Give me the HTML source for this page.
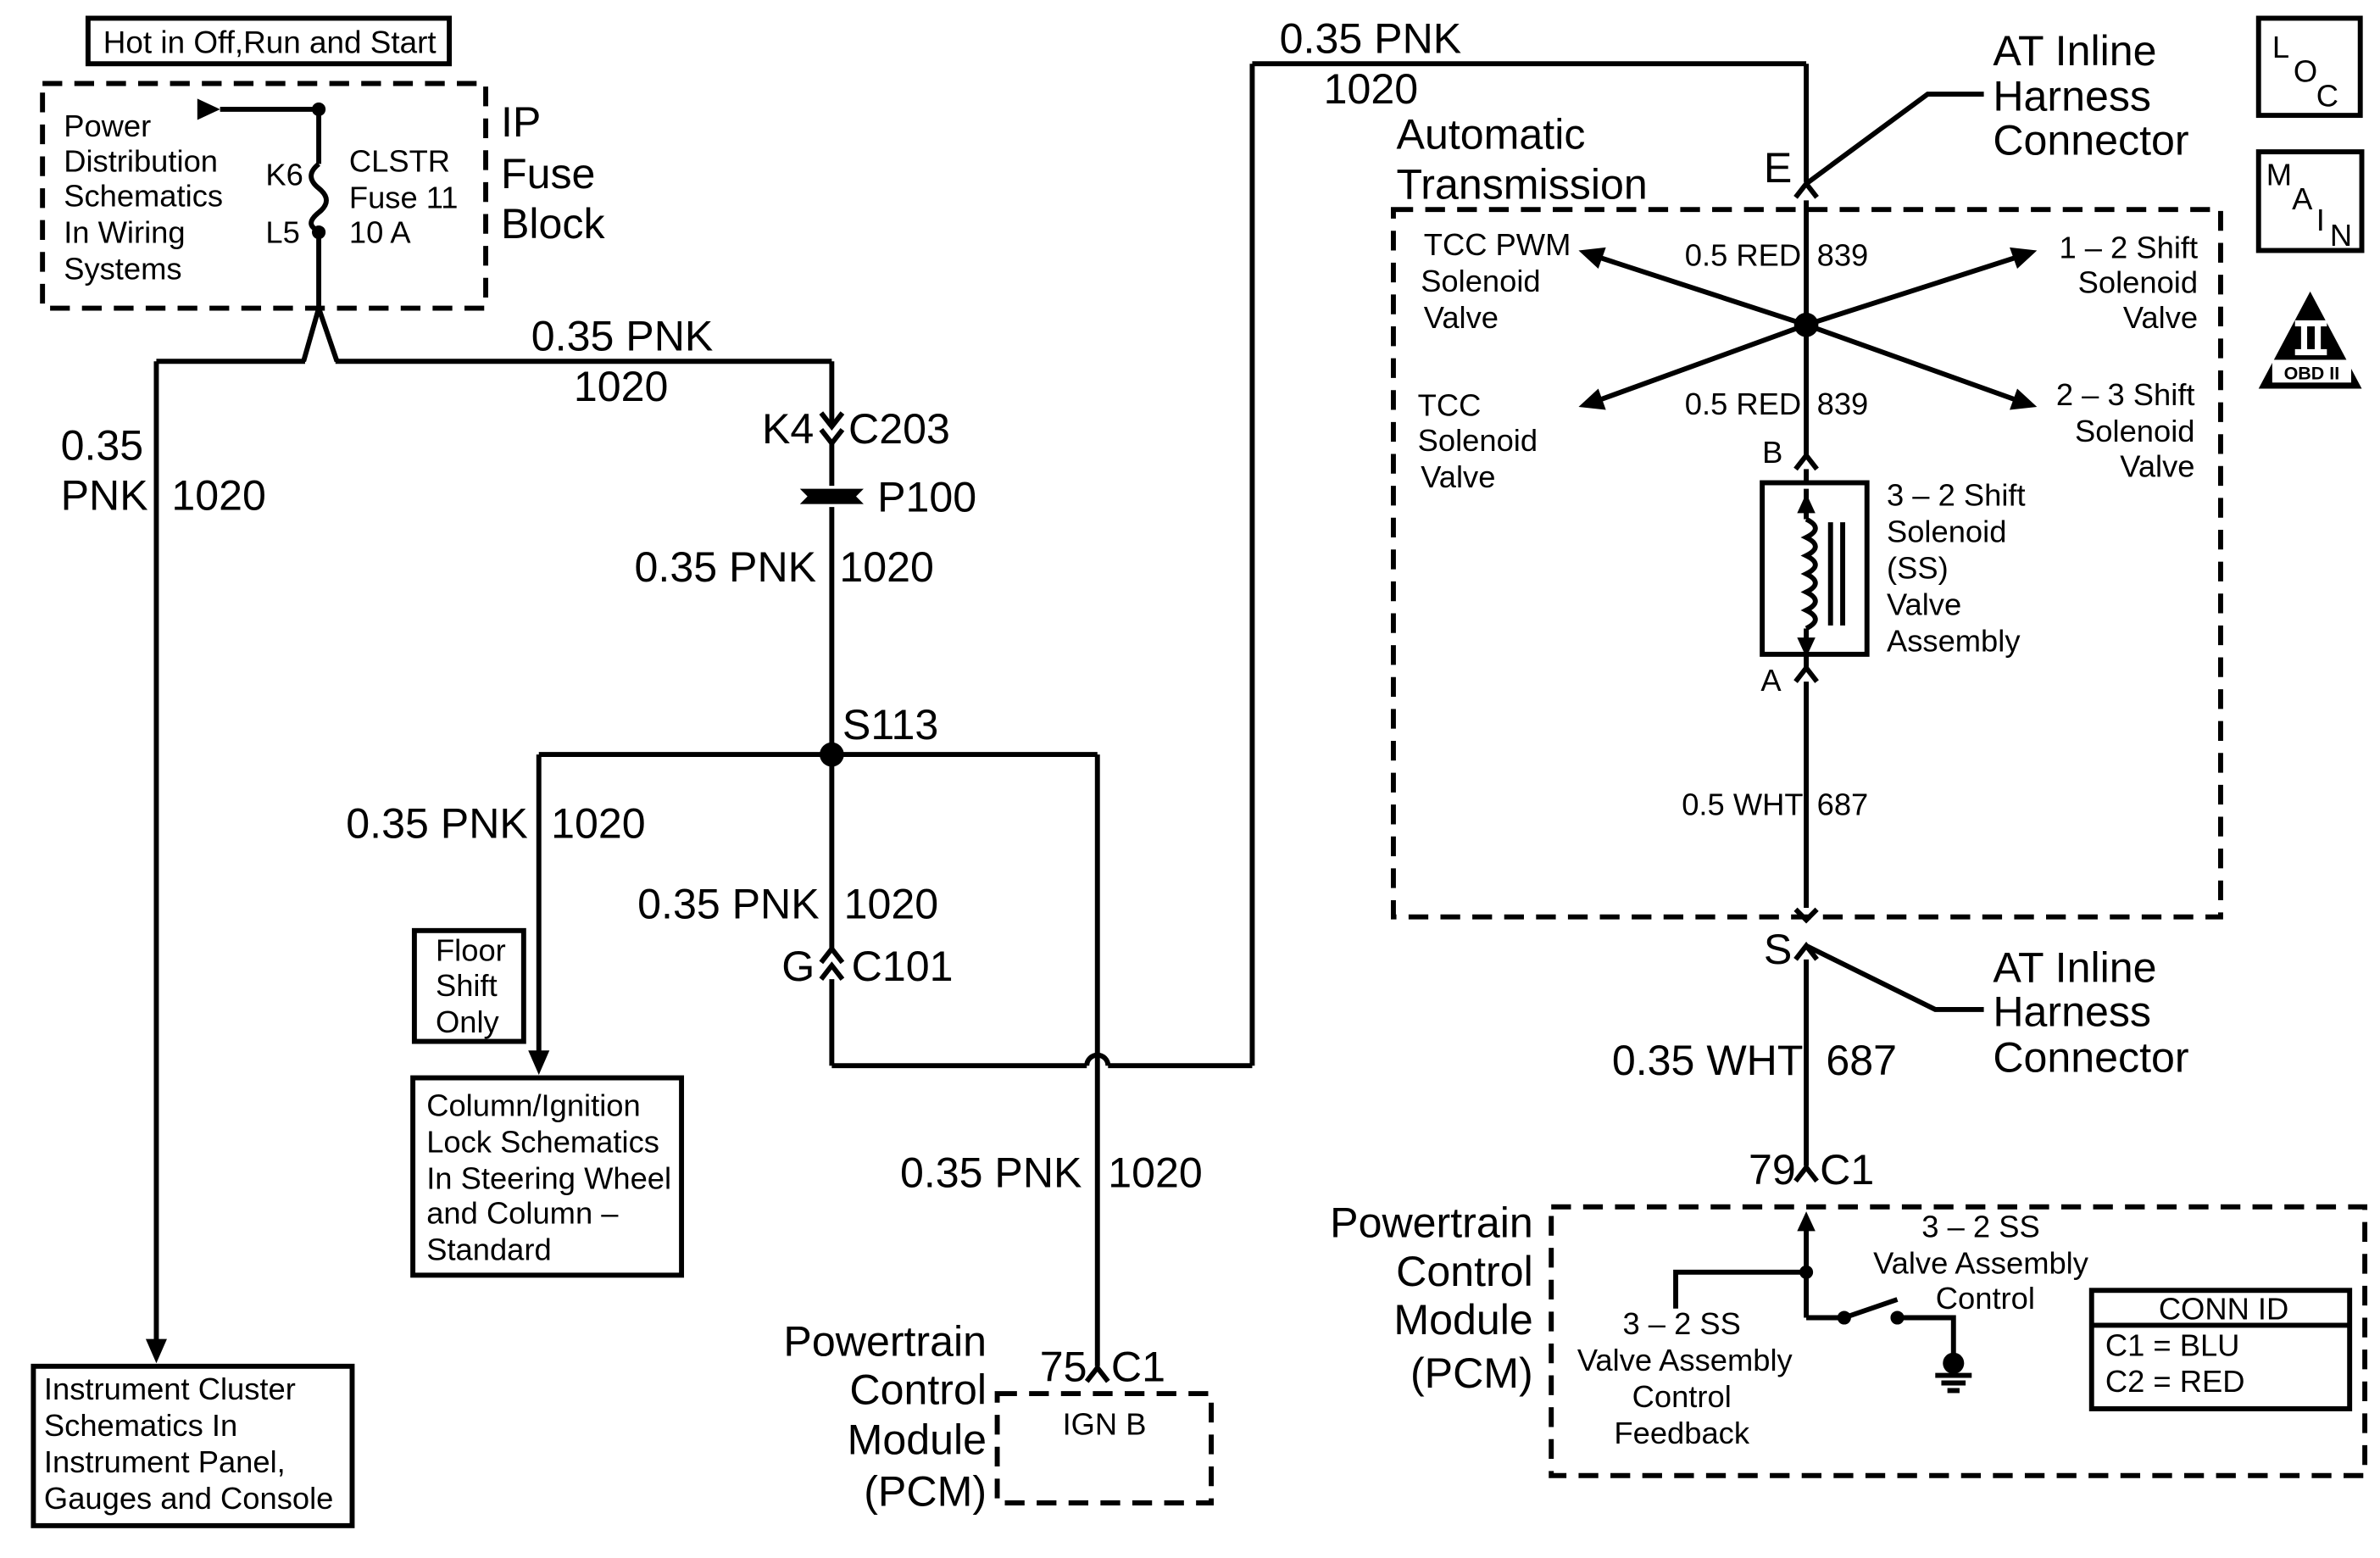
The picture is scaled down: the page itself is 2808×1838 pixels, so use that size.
<!DOCTYPE html>
<html><head><meta charset="utf-8"><style>
html,body{margin:0;padding:0;background:#fff;}
svg{display:block;}
text{font-family:"Liberation Sans",Arial,sans-serif;fill:#000;}
.s{font-size:20.3px;}
.m{font-size:20.6px;}
.b{font-size:28px;}
</style></head><body>
<svg width="2808" height="1838" viewBox="0 0 1568 1026.3" preserveAspectRatio="none" xmlns="http://www.w3.org/2000/svg">
<g fill="none" stroke="#000" stroke-width="3.3">
<rect x="58" y="12" width="238" height="30"/>
<rect x="28" y="55" width="292" height="148" stroke-dasharray="13,8"/>
<line x1="145" y1="72" x2="210" y2="72"/>
<polyline points="210,72 210,108"/>
<path d="M210,108 q-10,8 0,16 q10,8 0,16 q-10,8 0,12"/>
<line x1="210" y1="153" x2="210" y2="203"/>
<polyline points="200,238 210,203 222,238"/>
<line x1="103" y1="238" x2="201" y2="238"/>
<line x1="221" y1="238" x2="548" y2="238"/>
<line x1="103" y1="238" x2="103" y2="885"/>
<rect x="22" y="900" width="210" height="105"/>
<line x1="548" y1="238" x2="548" y2="280"/>
<polyline points="541,272 548,281 555,272"/>
<polyline points="541,283 548,292 555,283"/>
<line x1="548" y1="292" x2="548" y2="320"/>
<line x1="548" y1="334" x2="548" y2="625"/>
<line x1="355" y1="497" x2="723" y2="497"/>
<line x1="355" y1="497" x2="355" y2="697"/>
<rect x="273" y="613" width="72" height="73"/>
<rect x="272" y="710" width="177" height="130"/>
<polyline points="541,645 548,636 555,645"/>
<polyline points="541,634 548,625 555,634"/>
<line x1="548" y1="645" x2="548" y2="702"/>
<line x1="548" y1="702" x2="716" y2="702"/>
<path d="M716,702 a7,7 0 0 1 14,0"/>
<line x1="730" y1="702" x2="825" y2="702"/>
<line x1="825" y1="702" x2="825" y2="42"/>
<line x1="825" y1="42" x2="1190" y2="42"/>
<line x1="723" y1="497" x2="723" y2="900"/>
<polyline points="716,910 723,901 730,910"/>
<rect x="657" y="918" width="141" height="72" stroke-dasharray="13,8"/>
<line x1="1190" y1="42" x2="1190" y2="120"/>
<polyline points="1183,130 1190,121 1197,130"/>
<polyline points="1190,121 1270,62 1307,62"/>
<rect x="918" y="138" width="545" height="466" stroke-dasharray="13,8"/>
<line x1="1190" y1="132" x2="1190" y2="300"/>
<polyline points="1183,309 1190,300 1197,309"/>
<line x1="1190" y1="309" x2="1190" y2="318"/>
<line x1="1190" y1="214" x2="1055" y2="170"/>
<line x1="1190" y1="214" x2="1327" y2="170"/>
<line x1="1190" y1="214" x2="1055" y2="263"/>
<line x1="1190" y1="214" x2="1327" y2="263"/>
<rect x="1161" y="318" width="69" height="113"/>
<line x1="1190" y1="322" x2="1190" y2="342"/>
<path d="M1190,342 q12,6 0,12 q12,6 0,12 q12,6 0,12 q12,6 0,12 q12,6 0,12 q12,6 0,12"/>
<line x1="1190" y1="414" x2="1190" y2="428"/>
<line x1="1206" y1="344" x2="1206" y2="412"/>
<line x1="1214" y1="344" x2="1214" y2="412"/>
<line x1="1190" y1="431" x2="1190" y2="440"/>
<polyline points="1183,449 1190,440 1197,449"/>
<line x1="1190" y1="449" x2="1190" y2="598"/>
<polyline points="1183,599 1190,606 1197,599"/>
<polyline points="1183,632 1190,623 1197,632"/>
<polyline points="1190,623 1275,665 1307,665"/>
<line x1="1190" y1="632" x2="1190" y2="768"/>
<polyline points="1183,778 1190,769 1197,778"/>
<rect x="1022" y="795" width="536" height="177" stroke-dasharray="13,8"/>
<line x1="1190" y1="810" x2="1190" y2="868"/>
<polyline points="1104,862 1104,838 1190,838"/>
<line x1="1190" y1="868" x2="1215" y2="868"/>
<line x1="1215" y1="868" x2="1250" y2="856"/>
<polyline points="1250,868 1287,868 1287,898"/>
<line x1="1275" y1="906" x2="1299" y2="906"/>
<line x1="1279" y1="911" x2="1295" y2="911"/>
<line x1="1283" y1="916" x2="1291" y2="916"/>
<rect x="1378" y="850" width="170" height="78"/>
<line x1="1378" y1="873" x2="1548" y2="873"/>
<rect x="1488" y="12" width="67" height="64"/>
<rect x="1488" y="100" width="68" height="65"/>
</g>
<g fill="#000">
<polygon points="130,65 145,72 130,79"/>
<circle cx="210" cy="72" r="4.5"/>
<circle cx="210" cy="153" r="4.5"/>
<polygon points="96,882 110,882 103,898"/>
<polygon points="348,692 362,692 355,708"/>
<path d="M527,322 h42 l-5,5 l5,5 h-42 l5,-5z"/>
<circle cx="548" cy="497" r="8"/>
<circle cx="1190" cy="214" r="8"/>
<polygon points="1040,165 1058,163 1053,177"/>
<polygon points="1342,165 1324,163 1329,177"/>
<polygon points="1040,268 1053,256 1058,270"/>
<polygon points="1342,268 1329,256 1324,270"/>
<polygon points="1184,338 1196,338 1190,325"/>
<polygon points="1184,420 1196,420 1190,433"/>
<polygon points="1184,811 1196,811 1190,798"/>
<circle cx="1190" cy="838" r="4.5"/>
<circle cx="1215" cy="868" r="4.5"/>
<circle cx="1250" cy="868" r="4.5"/>
<circle cx="1287" cy="898" r="7"/>
<polygon points="1522,192 1556,256 1488,256"/>
</g>
<rect x="1497" y="237" width="52" height="15" fill="#fff"/>
<rect x="1512" y="211" width="21" height="4" fill="#fff"/>
<rect x="1512" y="230" width="21" height="4" fill="#fff"/>
<rect x="1516" y="214" width="4" height="17" fill="#fff"/>
<rect x="1525" y="214" width="4" height="17" fill="#fff"/>
<text x="1523" y="250" style="font-size:12px;font-weight:bold" text-anchor="middle">OBD II</text>

<text x="68" y="35" class="m">Hot in Off,Run and Start</text>
<text class="s"><tspan x="42" y="90">Power</tspan><tspan x="42" y="113">Distribution</tspan><tspan x="42" y="136">Schematics</tspan><tspan x="42" y="160">In Wiring</tspan><tspan x="42" y="184">Systems</tspan></text>
<text x="175" y="122" class="s">K6</text>
<text x="175" y="160" class="s">L5</text>
<text class="s"><tspan x="230" y="113">CLSTR</tspan><tspan x="230" y="137">Fuse 11</tspan><tspan x="230" y="160">10 A</tspan></text>
<text class="b"><tspan x="330" y="90">IP</tspan><tspan x="330" y="124">Fuse</tspan><tspan x="330" y="157">Block</tspan></text>
<text x="40" y="303" class="b">0.35</text>
<text x="40" y="336" class="b">PNK</text>
<text x="113" y="336" class="b">1020</text>
<text x="350" y="231" class="b">0.35 PNK</text>
<text x="378" y="264" class="b">1020</text>
<text x="502" y="292" class="b">K4</text>
<text x="559" y="292" class="b">C203</text>
<text x="578" y="337" class="b">P100</text>
<text x="418" y="383" class="b">0.35 PNK</text>
<text x="553" y="383" class="b">1020</text>
<text x="555" y="487" class="b">S113</text>
<text x="228" y="552" class="b">0.35 PNK</text>
<text x="363" y="552" class="b">1020</text>
<text x="420" y="605" class="b">0.35 PNK</text>
<text x="556" y="605" class="b">1020</text>
<text x="515" y="646" class="b">G</text>
<text x="561" y="646" class="b">C101</text>
<text class="s"><tspan x="287" y="633">Floor</tspan><tspan x="287" y="656">Shift</tspan><tspan x="287" y="680">Only</tspan></text>
<text class="s"><tspan x="281" y="735">Column/Ignition</tspan><tspan x="281" y="759">Lock Schematics</tspan><tspan x="281" y="783">In Steering Wheel</tspan><tspan x="281" y="806">and Column –</tspan><tspan x="281" y="830">Standard</tspan></text>
<text class="s"><tspan x="29" y="922">Instrument Cluster</tspan><tspan x="29" y="946">Schematics In</tspan><tspan x="29" y="970">Instrument Panel,</tspan><tspan x="29" y="994">Gauges and Console</tspan></text>
<text x="593" y="782" class="b">0.35 PNK</text>
<text x="730" y="782" class="b">1020</text>
<text x="685" y="910" class="b">75</text>
<text x="732" y="910" class="b">C1</text>
<text x="700" y="945" class="s">IGN B</text>
<text class="b" text-anchor="end"><tspan x="650" y="893">Powertrain</tspan><tspan x="650" y="925">Control</tspan><tspan x="650" y="958">Module</tspan><tspan x="650" y="992">(PCM)</tspan></text>
<text x="843" y="35" class="b">0.35 PNK</text>
<text x="872" y="68" class="b">1020</text>
<text class="b"><tspan x="920" y="98">Automatic</tspan><tspan x="920" y="131">Transmission</tspan></text>
<text class="b"><tspan x="1313" y="43">AT Inline</tspan><tspan x="1313" y="73">Harness</tspan><tspan x="1313" y="102">Connector</tspan></text>
<text x="1162" y="120" class="b">E</text>
<text x="1110" y="175" class="s">0.5 RED</text><text x="1197" y="175" class="s">839</text>
<text x="1110" y="273" class="s">0.5 RED</text><text x="1197" y="273" class="s">839</text>
<text class="s"><tspan x="938" y="168">TCC PWM</tspan><tspan x="936" y="192">Solenoid</tspan><tspan x="938" y="216">Valve</tspan></text>
<text class="s"><tspan x="934" y="274">TCC</tspan><tspan x="934" y="297">Solenoid</tspan><tspan x="936" y="321">Valve</tspan></text>
<text class="s" text-anchor="end"><tspan x="1448" y="170">1 – 2 Shift</tspan><tspan x="1448" y="193">Solenoid</tspan><tspan x="1448" y="216">Valve</tspan></text>
<text class="s" text-anchor="end"><tspan x="1446" y="267">2 – 3 Shift</tspan><tspan x="1446" y="291">Solenoid</tspan><tspan x="1446" y="314">Valve</tspan></text>
<text x="1161" y="305" class="s">B</text>
<text x="1160" y="455" class="s">A</text>
<text class="s"><tspan x="1243" y="333">3 – 2 Shift</tspan><tspan x="1243" y="357">Solenoid</tspan><tspan x="1243" y="381">(SS)</tspan><tspan x="1243" y="405">Valve</tspan><tspan x="1243" y="429">Assembly</tspan></text>
<text x="1108" y="537" class="s">0.5 WHT</text><text x="1197" y="537" class="s">687</text>
<text x="1162" y="635" class="b">S</text>
<text class="b"><tspan x="1313" y="647">AT Inline</tspan><tspan x="1313" y="676">Harness</tspan><tspan x="1313" y="706">Connector</tspan></text>
<text x="1062" y="708" class="b">0.35 WHT</text>
<text x="1203" y="708" class="b">687</text>
<text x="1152" y="780" class="b">79</text>
<text x="1199" y="780" class="b">C1</text>
<text class="b" text-anchor="end"><tspan x="1010" y="815">Powertrain</tspan><tspan x="1010" y="847">Control</tspan><tspan x="1010" y="879">Module</tspan><tspan x="1010" y="914">(PCM)</tspan></text>
<text class="s" text-anchor="middle"><tspan x="1305" y="815">3 – 2 SS</tspan><tspan x="1305" y="839">Valve Assembly</tspan><tspan x="1308" y="862">Control</tspan></text>
<text class="s" text-anchor="middle"><tspan x="1108" y="879">3 – 2 SS</tspan><tspan x="1110" y="903">Valve Assembly</tspan><tspan x="1108" y="927">Control</tspan><tspan x="1108" y="951">Feedback</tspan></text>
<text x="1465" y="869" class="s" text-anchor="middle">CONN ID</text>
<text x="1387" y="893" class="s">C1 = BLU</text>
<text x="1387" y="917" class="s">C2 = RED</text>
<text x="1497" y="38" class="s">L</text><text x="1511" y="54" class="s">O</text><text x="1526" y="70" class="s">C</text>
<text x="1493" y="122" class="s">M</text><text x="1510" y="138" class="s">A</text><text x="1526" y="152" class="s">I</text><text x="1535" y="162" class="s">N</text>
</svg>
</body></html>
